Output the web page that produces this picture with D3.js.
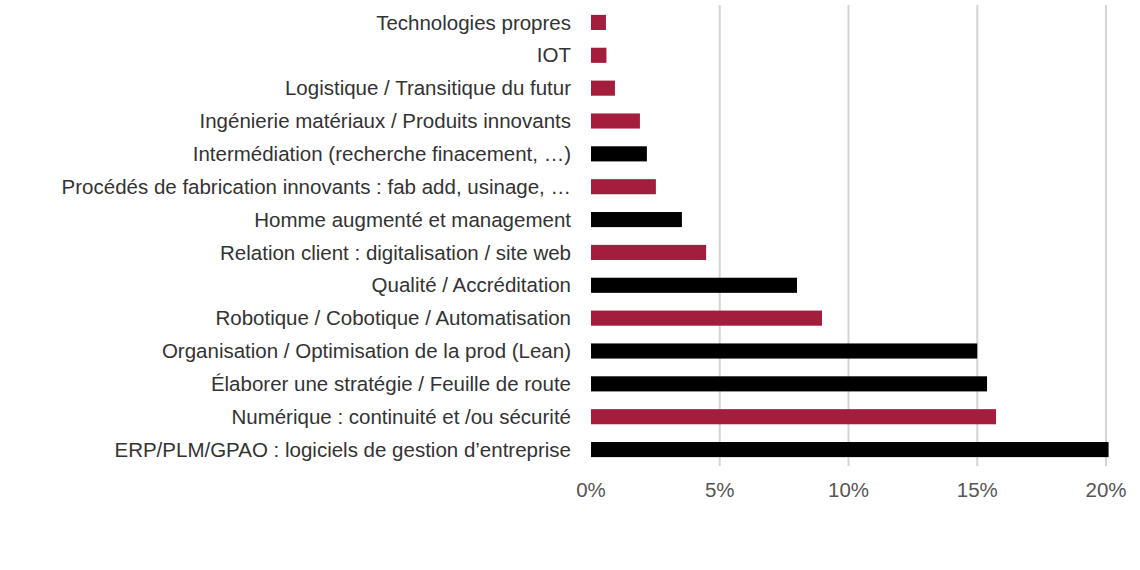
<!DOCTYPE html>
<html>
<head>
<meta charset="utf-8">
<script src="https://cdn.jsdelivr.net/npm/d3@7"></script>
<style>
  body { margin: 0; background: #fff; }
  text { font-family: "Liberation Sans", Arial, sans-serif; }
</style>
</head>
<body>
<div id="chart"></div>
<script>
// categories top to bottom
const categories = [
    "Technologies propres",
    "IOT",
    "Logistique / Transitique du futur",
    "Ingénierie matériaux / Produits innovants",
    "Intermédiation (recherche finacement, …)",
    "Procédés de fabrication innovants : fab add, usinage, …",
    "Homme augmenté et management",
    "Relation client : digitalisation / site web",
    "Qualité / Accréditation",
    "Robotique / Cobotique / Automatisation",
    "Organisation / Optimisation de la prod (Lean)",
    "Élaborer une stratégie / Feuille de route",
    "Numérique : continuité et /ou sécurité",
    "ERP/PLM/GPAO : logiciels de gestion d’entreprise"
];
const values = [0.58, 0.6, 0.93, 1.9, 2.17, 2.52, 3.53, 4.47, 8.0, 8.97, 15.0, 15.38, 15.73, 20.1];
const groups = ["r", "r", "r", "r", "k", "r", "k", "r", "k", "r", "k", "k", "r", "k"];
const ticks = [0, 5, 10, 15, 20];

const colors = { r: "#a51d3c", k: "#000000" };

const svg = d3.select("#chart").append("svg")
    .attr("width", 1140)
    .attr("height", 570);

const x = d3.scaleLinear().domain([0, 20]).range([591, 1106]);
const y = d3.scaleBand().domain(categories).range([6, 466]).paddingInner(0.54).paddingOuter(0.27);

// gridlines
svg.append("g").selectAll("line")
    .data(ticks.filter(t => t > 0))
    .join("line")
    .attr("x1", d => x(d)).attr("x2", d => x(d))
    .attr("y1", 5).attr("y2", 466)
    .attr("stroke", "#d4d4d4").attr("stroke-width", 2);

svg.append("g").selectAll("rect")
    .data(values)
    .join("rect")
    .attr("x", x(0))
    .attr("y", (d, i) => y(categories[i]))
    .attr("width", d => x(d) - x(0))
    .attr("height", y.bandwidth())
    .attr("fill", (d, i) => colors[groups[i]]);

// category labels
svg.append("g").selectAll("text")
    .data(categories)
    .join("text")
    .attr("x", 571)
    .attr("y", d => y(d) + y.bandwidth() / 2)
    .attr("dy", "0.35em")
    .attr("text-anchor", "end")
    .attr("font-size", 20.5)
    .attr("fill", "#333")
    .text(d => d);

// tick labels
svg.append("g").selectAll("text")
    .data(ticks)
    .join("text")
    .attr("x", d => x(d))
    .attr("y", 497)
    .attr("text-anchor", "middle")
    .attr("font-size", 20.5)
    .attr("fill", "#555")
    .text(d => d + "%");
</script>
</body>
</html>
